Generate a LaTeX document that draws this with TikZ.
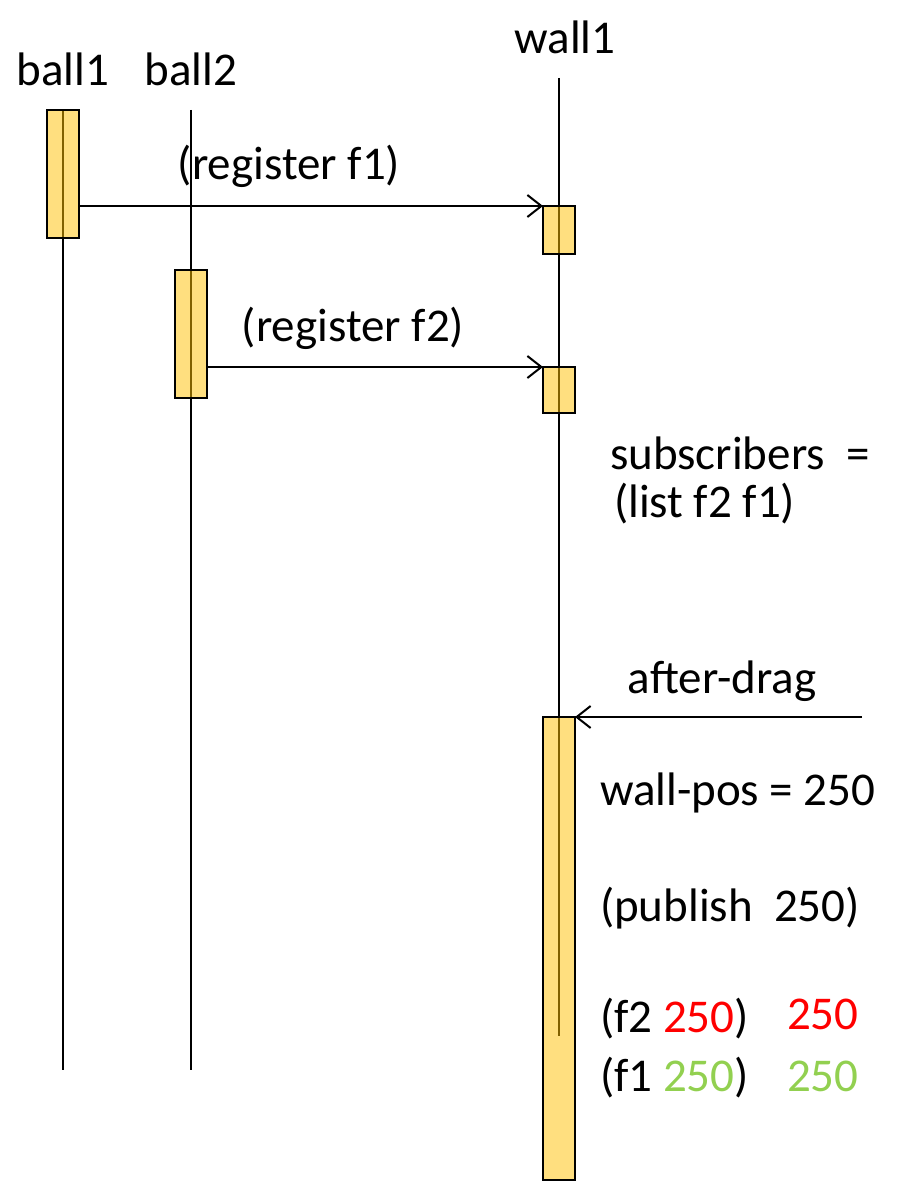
\documentclass[tikz,border=0pt]{standalone}
\usepackage{fontspec}
\setmainfont{Carlito}
\usetikzlibrary{arrows.meta}
\definecolor{boxgold}{RGB}{255,192,0}
\definecolor{lgreen}{RGB}{146,208,80}
\definecolor{lred}{RGB}{255,0,0}
\begin{document}
\begin{tikzpicture}[x=1pt,y=-1pt,
  act/.style={draw=black, line width=2pt, fill=boxgold, fill opacity=0.5, draw opacity=1, text opacity=1, minimum width=32pt, inner sep=0pt, outer sep=0pt},
  life/.style={line width=2pt},
  msg/.style={line width=2pt, -{Straight Barb[length=14pt,width=22pt,line width=2pt]}},
  lbl/.style={font=\fontsize{47}{53}\selectfont, inner sep=0pt, outer sep=0pt}]
\useasboundingbox (0,0) rectangle (904,1190);
% lifelines
\coordinate (b1top) at (63,110);
\coordinate (b1bot) at (63,1070);
\coordinate (b2top) at (191,110);
\coordinate (b2bot) at (191,1070);
\coordinate (w1top) at (559,78);
\coordinate (w1bot) at (559,1036);
\draw[life] (b1top) -- (b1bot);
\draw[life] (b2top) -- (b2bot);
\draw[life] (w1top) -- (w1bot);
% activation boxes
\node[act, minimum height=128pt] (a1) at (63,174) {};
\node[act, minimum height=128pt] (a2) at (191,334) {};
\node[act, minimum height=48pt] (w1) at (559,230) {};
\node[act, minimum height=46pt] (w2) at (559,390) {};
\node[act, minimum height=463pt] (w3) at (559,948.5) {};
% messages
\draw[msg] (a1.east |- w1.north west) -- (w1.north west);
\draw[msg] (a2.east |- w2.north west) -- (w2.north west);
\coordinate (ad) at (862,717);
\draw[msg] (ad) -- (w3.north east);
% labels
\node[lbl, anchor=base] (lb1) at (63,86) {ball1};
\node[lbl, anchor=base] (lb2) at (191,86) {ball2};
\node[lbl, anchor=base] (lw1) at (565,54) {wall1};
\node[lbl, anchor=base] (lr1) at (289,180) {(register f1)};
\node[lbl, anchor=base] (lr2) at (353,341) {(register f2)};
\node[lbl, anchor=base west] (ls1) at (610,469) {subscribers\ \ =};
\node[lbl, anchor=base west] (ls2) at (614,517) {(list f2 f1)};
\node[lbl, anchor=base] (lad) at (722,693) {after-drag};
\node[lbl, anchor=base west] (lwp) at (600,805) {wall-pos = 250};
\node[lbl, anchor=base west] (lpub) at (600,921) {(publish\ \ 250)};
\node[lbl, anchor=base west] (lf2) at (600,1032) {(f2 \textcolor{lred}{250})};
\node[lbl, anchor=base west] (lf1) at (600,1091) {(f1 \textcolor{lgreen}{250})};
\node[lbl, anchor=base west, text=lred] (r2) at (787,1029) {250};
\node[lbl, anchor=base west, text=lgreen] (r1) at (787,1091) {250};
\end{tikzpicture}
\end{document}
